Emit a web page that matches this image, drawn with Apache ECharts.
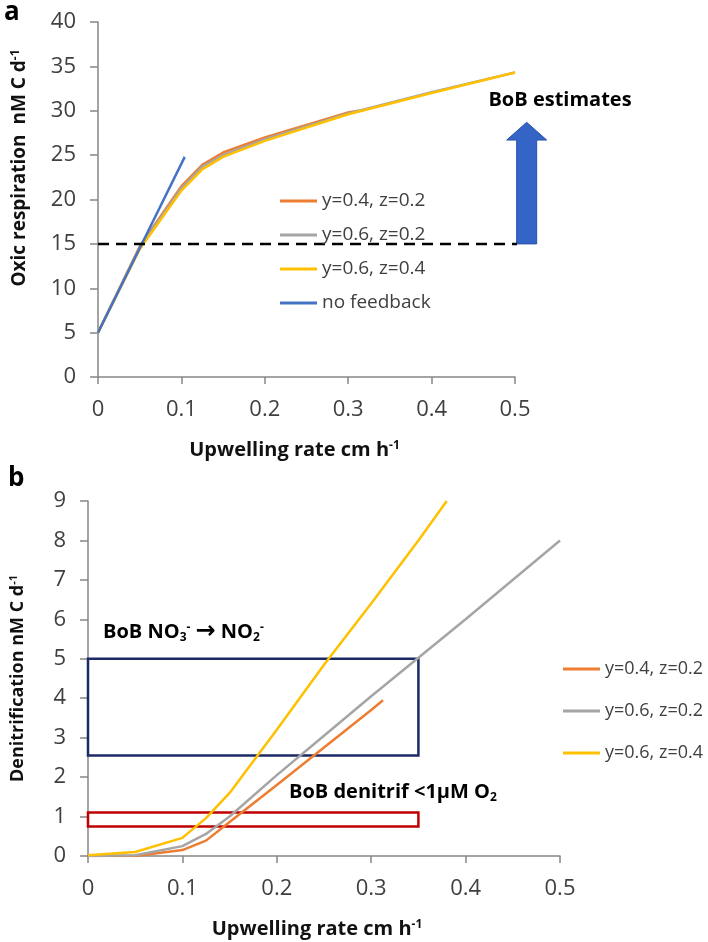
<!DOCTYPE html>
<html>
<head>
<meta charset="utf-8">
<script src="https://cdn.jsdelivr.net/npm/echarts@6/dist/echarts.min.js"></script>
<style>
  html, body { margin: 0; padding: 0; background: #fff; }
  #chart { width: 708px; height: 942px; }
</style>
</head>
<body>
<div id="chart"></div>
<script>
// panel a: oxic respiration vs upwelling rate
var oxicOrange = [[0, 5], [0.05, 14.7], [0.1, 21.5], [0.125, 23.9], [0.15, 25.3], [0.2, 27.0], [0.3, 29.8], [0.3125, 30.0]];
var oxicGray = [[0, 5], [0.05, 14.6], [0.1, 21.3], [0.125, 23.7], [0.15, 25.0], [0.2, 26.8], [0.3, 29.7], [0.4, 32.1], [0.5, 34.3]];
var oxicYellow = [[0, 5], [0.05, 14.4], [0.1, 21.0], [0.125, 23.4], [0.15, 24.8], [0.2, 26.6], [0.3, 29.6], [0.4, 32.0], [0.5, 34.3]];
var oxicBlue = [[0, 5], [0.05, 14.5], [0.104, 24.8]];
var bobLine = [[0, 15], [0.556, 15]];          // dashed reference level
var bobArrow = [[0.514, 15, 28.7, 26.7]];      // x, base, tip, head base

// panel b: denitrification vs upwelling rate
var denOrange = [[0, 0], [0.05, 0], [0.1, 0.15], [0.125, 0.39], [0.15, 0.86], [0.2, 1.8], [0.25, 2.75], [0.3, 3.7], [0.3125, 3.95]];
var denGray = [[0, 0], [0.05, 0.02], [0.1, 0.25], [0.125, 0.56], [0.15, 1.0], [0.2, 2.05], [0.25, 3.05], [0.3, 4.05], [0.4, 6.0], [0.5, 8.0]];
var denYellow = [[0, 0.02], [0.05, 0.1], [0.1, 0.46], [0.125, 0.96], [0.15, 1.6], [0.2, 3.2], [0.25, 4.85], [0.3, 6.4], [0.35, 8.0], [0.38, 9.0]];
var boxNO3 = [0, 2.55, 0.35, 5.0];
var boxDenitrif = [0, 0.75, 0.35, 1.1];

var names = ['y=0.4, z=0.2', 'y=0.6, z=0.2', 'y=0.6, z=0.4', 'no feedback'];
var colors = ['#ed7d31', '#a5a5a5', '#ffc000', '#4472c4'];

var FONT = 'Open Sans';
var axisGray = '#868686';

function supRich(size) {
    return { sup: { fontSize: Math.round(size * 0.6), fontWeight: 'bold', fontFamily: FONT, verticalAlign: 'top', padding: [0, 0, 9, 0] } };
}

function xAxisCfg(grid) {
    return {
        type: 'value', gridIndex: grid, min: 0, max: 0.5, interval: 0.1,
        splitLine: { show: false },
        axisLine: { lineStyle: { color: axisGray, width: 1.5 } },
        axisTick: { lineStyle: { color: axisGray, width: 1.5 }, length: 7 },
        axisLabel: { color: '#404040', fontSize: 22, fontFamily: FONT, margin: 22 },
        name: 'Upwelling rate cm h{sup|-1}',
        nameLocation: 'middle', nameGap: 63,
        nameTextStyle: { color: '#111', fontSize: 20, fontWeight: 'bold', fontFamily: FONT, rich: supRich(20),
            padding: grid == 0 ? [0, 24, 0, 0] : [0, 14, 0, 0] }
    };
}

function yAxisCfg(grid, max, interval, title, gap, size) {
    return {
        type: 'value', gridIndex: grid, min: 0, max: max, interval: interval,
        splitLine: { show: false },
        axisLine: { show: true, lineStyle: { color: axisGray, width: 1.5 } },
        axisTick: { show: true, lineStyle: { color: axisGray, width: 1.5 }, length: 8 },
        axisLabel: { color: '#404040', fontSize: 22, fontFamily: FONT, margin: 22 },
        name: title, nameLocation: 'middle', nameRotate: 90, nameGap: gap,
        nameTextStyle: { color: '#111', fontSize: size, fontWeight: 'bold', fontFamily: FONT, rich: supRich(size) }
    };
}

function lineSeries(name, data, color, ax) {
    return {
        name: name, type: 'line', xAxisIndex: ax, yAxisIndex: ax,
        data: data, color: color, showSymbol: false, symbol: 'none',
        lineStyle: { width: 2.5, color: color }, animation: false
    };
}

var chart = echarts.init(document.getElementById('chart'));

var option = {
    animation: false,
    grid: [
        { left: 98, top: 22, width: 417, height: 355 },
        { left: 85, top: 501, width: 475, height: 355 }
    ],
    xAxis: [xAxisCfg(0), xAxisCfg(1)],
    yAxis: [
        yAxisCfg(0, 40, 5, '', 66, 20),
        yAxisCfg(1, 9, 1, 'Denitrification nM C d{sup|-1}', 60, 18)
    ],
    legend: [
        {
            orient: 'vertical', left: 275, top: 186, itemGap: 14,
            icon: 'rect', itemWidth: 37, itemHeight: 3,
            textStyle: { color: '#404040', fontSize: 19, fontFamily: FONT, lineHeight: 20 },
            data: names
        },
        {
            orient: 'vertical', left: 558, top: 654, itemGap: 22,
            icon: 'rect', itemWidth: 37, itemHeight: 3,
            textStyle: { color: '#404040', fontSize: 18, fontFamily: FONT, lineHeight: 20 },
            data: names.slice(0, 3)
        }
    ],
    series: [
        lineSeries(names[0], oxicOrange, colors[0], 0),
        lineSeries(names[1], oxicGray, colors[1], 0),
        lineSeries(names[2], oxicYellow, colors[2], 0),
        lineSeries(names[3], oxicBlue, colors[3], 0),
        {
            type: 'line', xAxisIndex: 0, yAxisIndex: 0, data: bobLine, clip: false,
            symbol: 'none', silent: true,
            lineStyle: { color: '#000', width: 2.5, type: [11, 7] }
        },
        {
            type: 'custom', xAxisIndex: 0, yAxisIndex: 0, data: bobArrow, clip: false, silent: true,
            encode: { x: 0, y: [1, 2, 3] },
            renderItem: function (params, api) {
                var base = api.coord([api.value(0), api.value(1)]);
                var tip = api.coord([api.value(0), api.value(2)]);
                var neck = api.coord([api.value(0), api.value(3)]);
                var sw = 10, hw = 20, cx = base[0];
                return {
                    type: 'polygon',
                    shape: { points: [
                        [cx - sw, base[1]], [cx - sw, neck[1]], [cx - hw, neck[1]],
                        [cx, tip[1]],
                        [cx + hw, neck[1]], [cx + sw, neck[1]], [cx + sw, base[1]]
                    ] },
                    style: { fill: '#3464c6', stroke: '#2a52a6', lineWidth: 1 }
                };
            }
        },
        lineSeries(names[0], denOrange, colors[0], 1),
        lineSeries(names[1], denGray, colors[1], 1),
        lineSeries(names[2], denYellow, colors[2], 1),
        {
            type: 'line', xAxisIndex: 1, yAxisIndex: 1, data: [], silent: true,
            markArea: {
                silent: true,
                data: [
                    [
                        { xAxis: boxNO3[0], yAxis: boxNO3[1], itemStyle: { color: 'rgba(0,0,0,0)', borderColor: '#1b2a66', borderWidth: 2.5 } },
                        { xAxis: boxNO3[2], yAxis: boxNO3[3] }
                    ],
                    [
                        { xAxis: boxDenitrif[0], yAxis: boxDenitrif[1], itemStyle: { color: 'rgba(0,0,0,0)', borderColor: '#c00000', borderWidth: 2.5 } },
                        { xAxis: boxDenitrif[2], yAxis: boxDenitrif[3] }
                    ]
                ]
            }
        }
    ],
    graphic: [
        { type: 'text', left: 4, top: 0, style: { text: 'a', font: 'bold 26px "Open Sans"', fill: '#000' } },
        { type: 'text', left: 8, top: 466, style: { text: 'b', font: 'bold 26px "Open Sans"', fill: '#000' } },
        {
            // y-axis title of panel a (sits above the axis middle in the original)
            type: 'text', x: 20, y: 168, rotation: Math.PI / 2,
            style: {
                text: 'Oxic respiration  nM C d{sup|-1}',
                font: 'bold 19px "Open Sans"', fill: '#111', textAlign: 'center', textVerticalAlign: 'middle',
                rich: { sup: { font: 'bold 12px "Open Sans"', fill: '#111', padding: [0, 0, 9, 0] } }
            }
        },
        {
            type: 'text', x: 560, y: 100,
            style: { text: 'BoB estimates', font: 'bold 20px "Open Sans"', fill: '#000', textAlign: 'center', textVerticalAlign: 'middle' }
        },
        {
            type: 'text', x: 103, y: 632,
            style: {
                text: 'BoB NO{sub|3}{sup|-} {arr|→} NO{sub|2}{sup|-}',
                font: 'bold 20px "Open Sans"', fill: '#000', textVerticalAlign: 'middle',
                rich: {
                    sub: { font: 'bold 12px "Open Sans"', fill: '#000', padding: [11, 0, 0, 0] },
                    sup: { font: 'bold 12px "Open Sans"', fill: '#000', padding: [0, 0, 9, 0] },
                    arr: { font: 'bold 24px "DejaVu Sans"', fill: '#000' }
                }
            }
        },
        {
            type: 'text', x: 289, y: 792,
            style: {
                text: 'BoB denitrif <1μM O{sub|2}',
                font: 'bold 20px "Open Sans"', fill: '#000', textVerticalAlign: 'middle',
                rich: {
                    sub: { font: 'bold 12px "Open Sans"', fill: '#000', padding: [11, 0, 0, 0] }
                }
            }
        }
    ]
};

chart.setOption(option);
</script>
</body>
</html>
